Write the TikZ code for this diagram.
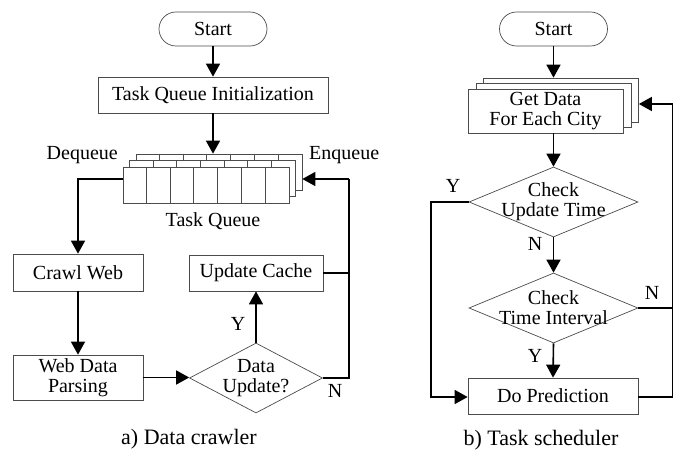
\documentclass[tikz,border=0pt]{standalone}
\usepackage{fontspec}
\setmainfont{Liberation Serif}
\usetikzlibrary{shapes.geometric,arrows.meta}
\begin{document}
\begin{tikzpicture}[x=1pt,y=-1pt,
  box/.style={draw=black!70, line width=0.7pt, fill=white, inner sep=0pt, align=center, font=\fontsize{20}{20}\selectfont},
  term/.style={box, rounded corners=17pt, minimum width=108pt, minimum height=34pt},
  dec/.style={draw=black!70, line width=0.7pt, fill=white, diamond, inner sep=0pt, minimum width=#1, minimum height=70pt},
  txt/.style={inner sep=0pt, align=center, font=\fontsize{20}{20}\selectfont},
  captxt/.style={inner sep=0pt, font=\fontsize{22}{22}\selectfont},
  arr/.style={line width=1.6pt, -{Triangle[length=13pt,width=14pt]}},
  ln/.style={line width=1.6pt},
  divline/.style={draw=black!70, line width=0.7pt},
]
\useasboundingbox (0,0) rectangle (673,454);

% ---------------- a) Data crawler ----------------
\node[term] (sl) at (213,29) {Start};
\node[box, minimum width=230pt, minimum height=36pt] (tqi) at (213,95) {Task Queue Initialization};

% task queue (three layers)
\node[box, minimum width=166pt, minimum height=36pt] (q3) at (219,172) {};
\foreach \i in {1,...,6} \draw[divline] (q3.north west) ++(\i*166/7,0) -- ++(0,36);
\node[box, minimum width=166pt, minimum height=36pt] (q2) at (212.5,178.5) {};
\foreach \i in {1,...,6} \draw[divline] (q2.north west) ++(\i*166/7,0) -- ++(0,36);
\node[box, minimum width=166pt, minimum height=36pt] (q) at (206,185) {};
\foreach \i in {1,...,6} \draw[divline] (q.north west) ++(\i*166/7,0) -- ++(0,36);

\node[txt, anchor=east] (deq) at (118,155) {Dequeue};
\node[txt, anchor=west] (enq) at (309,155) {Enqueue};
\node[txt] (tql) at (213,221) {Task Queue};

\node[box, minimum width=130pt, minimum height=37pt] (cw) at (78,272.5) {Crawl Web};
\node[box, minimum width=130pt, minimum height=45pt] (wdp) at (78,377.5) {Web Data\\Parsing};
\node[dec=133pt] (du) at (256,378) {};
\node[txt] (dut) at (256,378) {Data\\Update?};
\node[box, minimum width=134pt, minimum height=36pt] (uc) at (256,273) {Update Cache};

\node[txt] (ly1) at (238,324) {Y};
\node[txt] (ln1) at (335,391) {N};

\coordinate (nr) at (349,179);
\draw[arr] (sl) -- (tqi);
\draw[arr] (tqi.south) -- (tqi.south |- q3.north);
\draw[arr] ([yshift=6pt]q.west) -| (cw.north);
\draw[arr] (cw) -- (wdp);
\draw[arr] (wdp.east) -- (wdp.east -| du.west);
\draw[arr] (du.north) -- (uc.south);
\draw[ln] (du.east) -- (du.east -| nr) -- (nr);
\draw[arr] (nr) -- (q3.east |- nr);
\draw[ln] (uc.east) -- (uc.east -| nr);

\node[captxt] (capa) at (189,439) {a) Data crawler};

% ---------------- b) Task scheduler ----------------
\node[term] (sr) at (553.5,29) {Start};
\node[box, minimum width=155pt, minimum height=44pt] (g3) at (561,100) {};
\node[box, minimum width=155pt, minimum height=44pt] (g2) at (553.5,105) {};
\node[box, minimum width=155pt, minimum height=44pt] (g) at (545.5,111) {Get Data\\For Each City};

\node[dec=169pt] (cut) at (553.5,202) {};
\node[txt] (cutt) at (553.5,202) {Check\\Update Time};
\node[dec=169pt] (cti) at (553.5,308) {};
\node[txt] (ctit) at (553.5,308) {Check\\Time Interval};
\node[box, minimum width=170pt, minimum height=36pt] (dp) at (553,396) {Do Prediction};

\node[txt] (ly2) at (453,186) {Y};
\node[txt] (ln2) at (535,244) {N};
\node[txt] (ln3) at (652,293) {N};
\node[txt] (ly3) at (535,356) {Y};

\coordinate (rt) at (672.5,104);
\coordinate (rb) at (672.5,397);
\coordinate (lx) at (431,0);

\draw[arr] (sr.south) -- (sr.south |- g3.north);
\draw[arr] (cut.north |- g.south) -- (cut.north);
\draw[arr] (cut.south) -- (cti.north);
\draw[arr] (cti.south) -- (dp.north);
\draw[arr] (cut.west) -- (cut.west -| lx) -- (lx |- rb) -- (dp.west |- rb);
\draw[ln] (cti.east) -- (cti.east -| rb);
\draw[ln] (dp.east |- rb) -- (rb) -- (rt);
\draw[arr] (rt) -- (g3.east |- rt);

\node[captxt] (capb) at (541,440) {b) Task scheduler};
\end{tikzpicture}
\end{document}
